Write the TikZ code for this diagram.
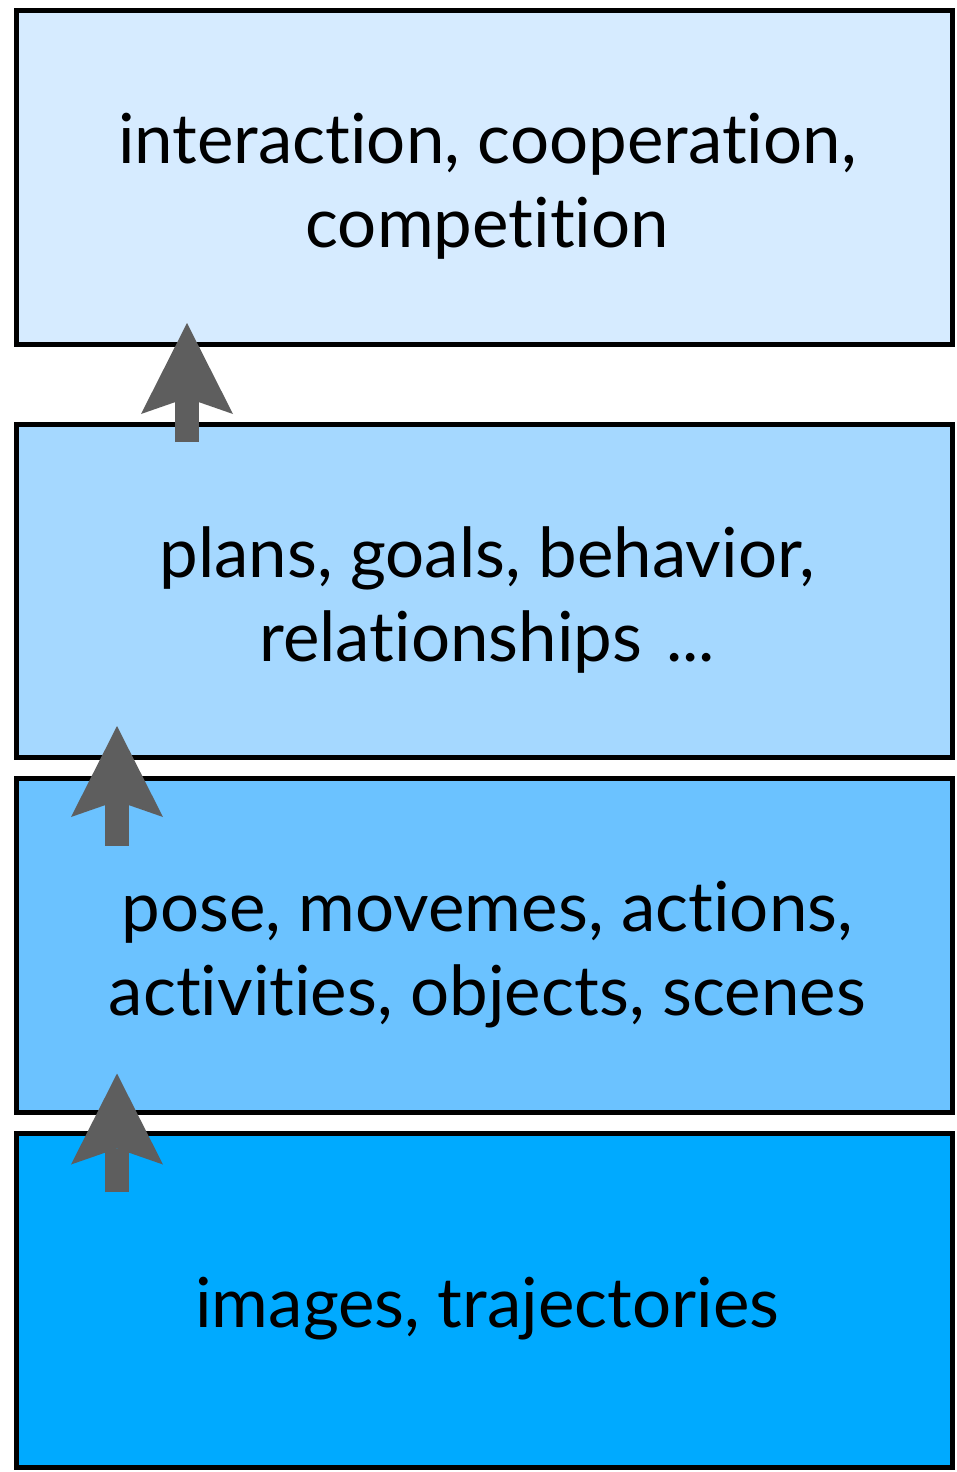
\documentclass[tikz,border=0pt]{standalone}
\usepackage{fontspec}
\setmainfont{Lato}[Ligatures=NoCommon]
\usetikzlibrary{arrows.meta}
\definecolor{layerA}{HTML}{D6EBFF}
\definecolor{layerB}{HTML}{A5D8FF}
\definecolor{layerC}{HTML}{6BC2FF}
\definecolor{layerD}{HTML}{00AAFF}
\definecolor{arrowgray}{HTML}{5E5E5E}
\tikzset{%
  % Specifications for style of the layers:
      layer/.style = {rectangle, draw=black, line width=5pt, outer sep=0pt,
                      minimum width=936.5pt, minimum height=333.5pt, inner sep=0pt},
  layertext/.style = {align=center, font=\fontsize{69}{84}\selectfont,
                      xshift=3pt, yshift=-9pt},
    uparrow/.style = {draw=arrowgray, line width=24.7pt,
                      -{Stealth[length=91pt, width=92pt, inset=16pt, line width=0pt]}},
}

\begin{document}
\begin{tikzpicture}[x=1pt, y=-1pt]
  \useasboundingbox (0,0) rectangle (957,1472);

  % Specification of layers (top to bottom)
  \node (interaction) [layer, fill=layerA] at (484.25,177.25)
    [label={[layertext]center:{interaction, cooperation,\\competition}}] {};
  \node (planning)    [layer, fill=layerB] at (484.25,590.75)
    [label={[layertext]center:{plans, goals, behavior,\\relationships\hspace{24pt}...}}] {};
  \node (activities)  [layer, fill=layerC] at (484.25,945.25)
    [label={[layertext]center:{pose, movemes, actions,\\activities, objects, scenes}}] {};
  \node (images)      [layer, fill=layerD, minimum height=334pt] at (484.25,1300)
    [label={[layertext]center:{images, trajectories}}] {};

  % Arrows between the layers
  \draw[uparrow] ([xshift=-297.25pt, yshift=-18pt]planning.north)
              -- ([xshift=-297.25pt, yshift=21pt]interaction.south);
  \draw[uparrow] ([xshift=-367.25pt, yshift=-67pt]activities.north)
              -- ([xshift=-367.25pt, yshift=31.5pt]planning.south);
  \draw[uparrow] ([xshift=-367.25pt, yshift=-59pt]images.north)
              -- ([xshift=-367.25pt, yshift=38.5pt]activities.south);
\end{tikzpicture}
\end{document}
